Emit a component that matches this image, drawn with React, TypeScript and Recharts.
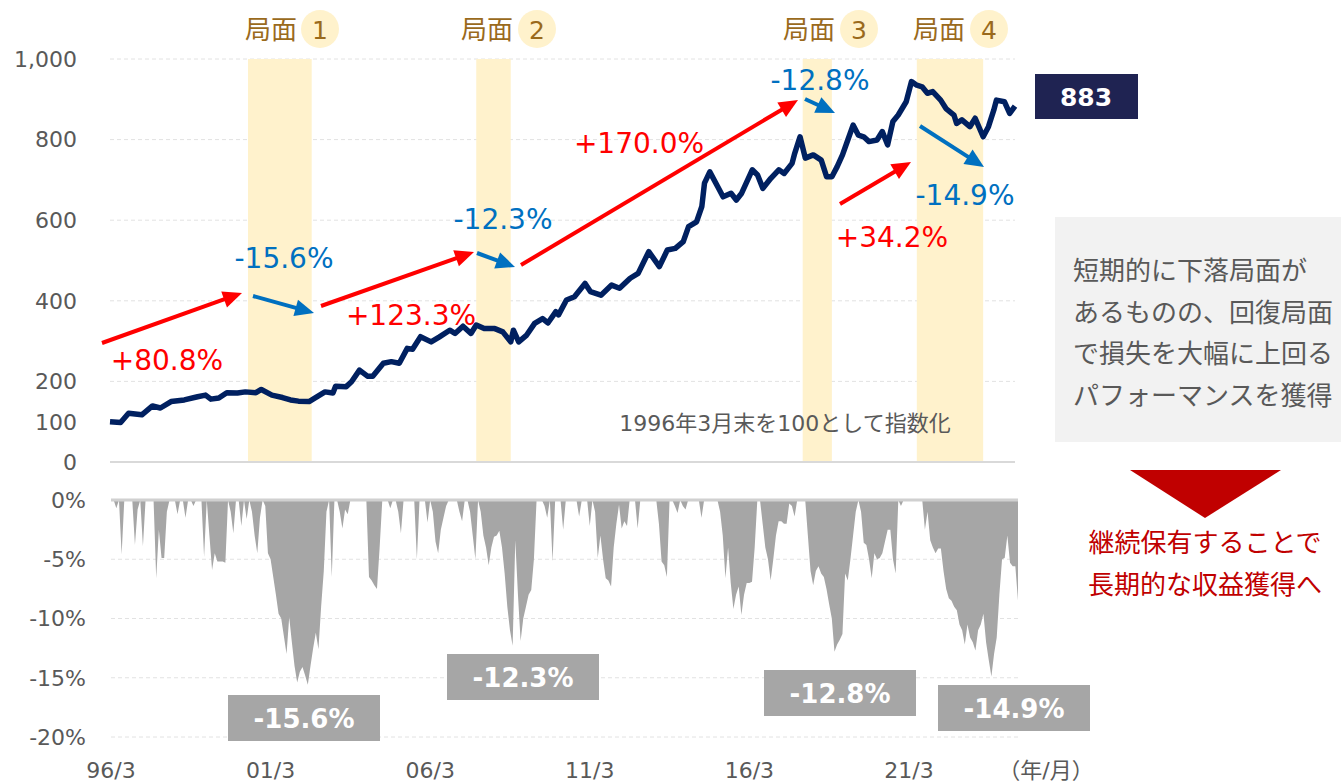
import {
  LineChart,
  Line,
  AreaChart,
  Area,
  XAxis,
  YAxis,
  CartesianGrid,
  ReferenceArea,
  ReferenceLine,
} from 'recharts';

// 指数（1996年3月末=100）
const indexDates = [
  '1996/03', '1996/07', '1996/10', '1997/03', '1997/07', '1997/10', '1998/02', '1998/07', '1998/12',
  '1999/03', '1999/05', '1999/08', '1999/11', '2000/03', '2000/06', '2000/10', '2000/12', '2001/04',
  '2001/08', '2001/11', '2002/02', '2002/06', '2002/08', '2002/12', '2003/03', '2003/04', '2003/08',
  '2003/10', '2004/01', '2004/04', '2004/06', '2004/10', '2005/01', '2005/04', '2005/07', '2005/09',
  '2005/12', '2006/04', '2006/07', '2006/11', '2007/01', '2007/04', '2007/07', '2007/09', '2007/12',
  '2008/04', '2008/07', '2008/10', '2008/11', '2009/01', '2009/04', '2009/07', '2009/10', '2009/12',
  '2010/03', '2010/04', '2010/07', '2010/10', '2011/02', '2011/04', '2011/08', '2011/12', '2012/03',
  '2012/07', '2012/10', '2013/02', '2013/06', '2013/09', '2013/12', '2014/03', '2014/05', '2014/08',
  '2014/10', '2014/11', '2015/01', '2015/04', '2015/06', '2015/09', '2015/11', '2016/01', '2016/05',
  '2016/07', '2016/09', '2016/12', '2017/03', '2017/05', '2017/08', '2017/09', '2017/11', '2018/01',
  '2018/04', '2018/07', '2018/09', '2018/11', '2019/01', '2019/03', '2019/05', '2019/07', '2019/09',
  '2019/11', '2020/01', '2020/04', '2020/06', '2020/08', '2020/10', '2020/12', '2021/03', '2021/05',
  '2021/07', '2021/09', '2021/11', '2022/01', '2022/04', '2022/06', '2022/09', '2022/10', '2022/12',
  '2023/03', '2023/05', '2023/08', '2023/10', '2023/12', '2024/01', '2024/04', '2024/06', '2024/08',
];
const indexValues = [
  100, 98, 121, 117, 139, 134, 150, 154, 162,
  166, 156, 159, 172, 171, 174, 172, 180, 166,
  160, 154, 151, 150, 158, 174, 171, 188, 187,
  199, 228, 213, 213, 245, 249, 245, 282, 280,
  311, 298, 310, 327, 319, 337, 319, 340, 331,
  331, 323, 298, 327, 298, 315, 344, 356, 345,
  373, 365, 402, 410, 443, 423, 414, 439, 431,
  456, 468, 522, 485, 526, 530, 547, 584, 596,
  634, 692, 720, 683, 658, 667, 650, 667, 725,
  712, 679, 704, 725, 716, 741, 766, 807, 754,
  762, 749, 708, 708, 733, 762, 799, 836, 811,
  807, 795, 799, 820, 787, 845, 861, 894, 944,
  935, 931, 915, 919, 898, 877, 861, 840, 849,
  832, 853, 807, 832, 873, 898, 894, 865, 883,
];

// 月次ドローダウン（%）1996/03 から
const drawdownStart = '1996/03';
const drawdown = [
  0, 0, -0.7, 0, -4.6, 0, 0, 0, 0, -3.8, -0.8, 0,
  -3.9, 0, 0, 0, 0, -6.6, -2.5, -4.9, -4.9, -1, 0, 0,
  0, -1.2, 0, 0, -1.5, 0, 0, -0.5, 0, 0, 0, -4.8,
  0, -3, -5.9, -4.5, -5.2, -5.2, -5.2, -5.3, 0, -1, -2.8, 0,
  0, -2.2, 0, -1.6, 0, -1, -3, -4.5, -1.5, 0, -0.5, -4.5,
  -5, -6.5, -8, -9.6, -10, -11.5, -13, -9.9, -12, -14, -15.4, -14.5,
  -14.1, -14.8, -15.6, -14, -12.5, -11.2, -12.6, -9, -6, -1, 0, -6.5,
  0, 0, -1, -2.4, -0.8, -1.2, 0, 0, 0, 0, 0, 0,
  0, -6.5, -6.8, -7.2, -7.5, -4, 0, 0, 0, -0.7, 0, 0,
  -1, -2.8, 0, 0, 0, 0, 0, -5, 0, 0, 0, -1.9,
  0, -1, -3.5, -4.5, -2.5, -1.5, -0.5, 0, 0, 0, 0, -1,
  -1.8, 0, 0, -1, -3, -5, 0, -1, -3, -4, -5.5, -4,
  -3.1, -3, -2.6, -4, -6.2, -9, -11, -12.3, -3.4, -8, -11.9, -10,
  -9, -8, -7.6, -5, 0, 0, 0, -0.5, -1.5, 0, -5.2, 0,
  0, 0, -2.5, 0, 0, 0, 0, 0, -1.4, 0, 0, 0,
  -2.2, 0, -1, -4.9, -3, -5, -6.6, -6.8, -7.3, -4, -2, -0.4,
  -2.4, -1.8, -2.2, 0, 0, 0, -2.4, 0, 0, 0, 0, 0,
  0, 0, -2, -5.2, -5.5, -6.5, 0, 0, -0.5, -1.1, 0, -0.5,
  -0.8, 0, 0, 0, 0, 0, -1.5, 0, 0, 0, 0, 0,
  0, -1, -3, -6.6, -4, -7, -9.2, -8, -7.3, -9.7, -8, -7,
  -7, -6.9, -4, 0, 0, -2, -4, -5, -6.8, -5, -3, -1.8,
  -1.8, -2, -2, -0.3, -0.5, -1.4, 0, 0, 0, 0, -3, -6,
  -7.2, -6, -5.6, -6.2, -6.5, -7.5, -8.8, -10, -12.8, -12.2, -11.8, -11.3,
  -6.2, -6.8, -5, -3, -1, 0, -1, -3.6, -3.8, -5, -6.6, -4.5,
  -5, -4.9, -4.5, -3.5, -2.5, -2.5, -5, -6.2, 0, -0.5, 0, 0,
  0, 0, 0, 0, 0, 0, -2.5, -1, -3.4, -4, -4.5, -4.1,
  -4.1, -6, -7.5, -8.3, -8.5, -9, -9.3, -10.5, -11, -12.2, -10.5, -11.6,
  -12, -12.7, -11, -10.5, -9.6, -12, -13.5, -14.9, -13, -11.6, -8, -5,
  -4.9, -3, -5.3, -5.6, -5.6, -8.5,
];

const xTickDates = ['1996/03', '2001/03', '2006/03', '2011/03', '2016/03', '2021/03'];
const xTickLabels = ['96/3', '01/3', '06/3', '11/3', '16/3', '21/3'];
const indexTicks = [0, 100, 200, 400, 600, 800, 1000];
const indexGrid = [200, 400, 600, 800, 1000];
const ddTicks = [-20, -15, -10, -5, 0];

// 局面
const phaseNames = ['1', '2', '3', '4'];
const phaseStart = ['2000/07', '2007/09', '2017/12', '2021/07'];
const phaseEnd = ['2002/07', '2008/10', '2018/11', '2023/08'];
const phaseDrops = ['-15.6%', '-12.3%', '-12.8%', '-14.9%'];
const phaseRises = ['+80.8%', '+123.3%', '+170.0%', '+34.2%'];
const lastValue = 883;

const monthIndex = (d: string) => {
  const [y, m] = d.split('/').map(Number);
  return (y - 1996) * 12 + (m - 3);
};

const lineData = indexDates.map((d, i) => ({ t: monthIndex(d), v: indexValues[i] }));
const ddOffset = monthIndex(drawdownStart);
const ddData = drawdown.map((v, i) => ({ t: ddOffset + i, d: v }));
const xTicks = xTickDates.map(monthIndex);
const xDomain: [number, number] = [0, 341];

const FONT = '"DejaVu Sans", "Noto Sans CJK JP", sans-serif';
const GREY = '#595959';
const RED = '#FF0000';
const BLUE = '#0070C0';
const BROWN = '#9A6A1C';

// 注記の配置（ピクセル）
const riseArrows = [
  [102, 343, 242, 293],
  [321, 306, 474, 252],
  [521, 265, 798, 100],
  [840, 204, 911, 162],
];
const riseText = [
  [167, 360],
  [411, 315],
  [639, 143],
  [892, 237],
];
const dropArrows = [
  [253, 296, 314, 313],
  [477, 253, 515, 267],
  [805, 99, 835, 113],
  [920, 126, 984, 167],
];
const dropText = [
  [284, 258],
  [503, 219],
  [820, 80],
  [965, 195],
];
const dropBoxes = [
  [228, 695],
  [447, 654],
  [764, 670],
  [938, 685],
];
const phaseLabelPos = [
  [271, 320],
  [487, 537],
  [809, 859],
  [939, 989],
];

function Arrow({ p, color }: { p: number[]; color: string }) {
  const [x1, y1, x2, y2] = p;
  const len = Math.hypot(x2 - x1, y2 - y1);
  const ux = (x2 - x1) / len;
  const uy = (y2 - y1) / len;
  const head = 19;
  const half = 8.5;
  const bx = x2 - ux * head;
  const by = y2 - uy * head;
  return (
    <g>
      <line x1={x1} y1={y1} x2={bx + ux * 2} y2={by + uy * 2} stroke={color} strokeWidth={4} />
      <polygon
        points={`${x2},${y2} ${bx - uy * half},${by + ux * half} ${bx + uy * half},${by - ux * half}`}
        fill={color}
      />
    </g>
  );
}

export default function App() {
  return (
    <div
      style={{
        position: 'absolute',
        left: 0,
        top: 0,
        width: 1341,
        height: 782,
        background: '#fff',
        fontFamily: FONT,
      }}
    >
      <div style={{ position: 'absolute', left: 0, top: 0 }}>
        <LineChart width={1341} height={480} data={lineData} margin={{ top: 59, right: 326, bottom: 18, left: 0 }}>
          <CartesianGrid vertical={false} horizontalValues={indexGrid} stroke="#E2E2E2" strokeDasharray="4 3" />
          <XAxis dataKey="t" type="number" domain={xDomain} hide />
          <YAxis
            type="number"
            domain={[0, 1000]}
            ticks={indexTicks}
            interval={0}
            width={110}
            axisLine={false}
            tickLine={false}
            tickSize={0}
            tickMargin={33}
            tickFormatter={(v) => Number(v).toLocaleString('en-US')}
            tick={{ fontSize: 22, fill: GREY }}
          />
          {phaseNames.map((n, i) => (
            <ReferenceArea
              key={n}
              x1={monthIndex(phaseStart[i])}
              x2={monthIndex(phaseEnd[i])}
              y1={0}
              y2={1000}
              fill="#FFF2CC"
              fillOpacity={1}
              stroke="none"
            />
          ))}
          <ReferenceLine y={0} stroke="#D9D9D9" strokeWidth={2} />
          <Line
            dataKey="v"
            type="linear"
            stroke="#002060"
            strokeWidth={5.5}
            strokeLinejoin="round"
            dot={false}
            isAnimationActive={false}
          />
        </LineChart>
      </div>

      <div style={{ position: 'absolute', left: 0, top: 480 }}>
        <AreaChart width={1341} height={302} data={ddData} margin={{ top: 20, right: 323, bottom: 0, left: 0 }}>
          <CartesianGrid vertical={false} horizontalValues={[-5, -10, -15, -20]} stroke="#E2E2E2" strokeDasharray="4 3" />
          <XAxis
            dataKey="t"
            type="number"
            domain={xDomain}
            ticks={xTicks}
            interval={0}
            height={45}
            axisLine={false}
            tickLine={false}
            tickSize={0}
            tickMargin={25}
            tickFormatter={(v) => xTickLabels[xTicks.indexOf(Number(v))] ?? ''}
            tick={{ fontSize: 22, fill: GREY }}
          />
          <YAxis
            type="number"
            domain={[-20, 0]}
            ticks={ddTicks}
            interval={0}
            width={111}
            axisLine={false}
            tickLine={false}
            tickSize={0}
            tickMargin={25}
            tickFormatter={(v) => `${v}%`}
            tick={{ fontSize: 22, fill: GREY }}
          />
          <Area
            dataKey="d"
            type="linear"
            baseValue={0}
            fill="#A6A6A6"
            fillOpacity={1}
            stroke="none"
            isAnimationActive={false}
          />
          <ReferenceLine y={0} stroke="#D0D0D0" strokeWidth={3} />
        </AreaChart>
      </div>

      <svg
        width={1341}
        height={782}
        style={{ position: 'absolute', left: 0, top: 0, pointerEvents: 'none', fontFamily: FONT }}
      >
        {phaseNames.map((n, i) => (
          <g key={n}>
            <text x={phaseLabelPos[i][0]} y={30} fontSize={26} fill={BROWN} textAnchor="middle" dominantBaseline="central">
              局面
            </text>
            <circle cx={phaseLabelPos[i][1]} cy={29} r={19} fill="#FFF2CC" />
            <text x={phaseLabelPos[i][1]} y={30} fontSize={25} fill={BROWN} textAnchor="middle" dominantBaseline="central">
              {n}
            </text>
          </g>
        ))}

        {riseArrows.map((p, i) => (
          <Arrow key={`r${i}`} p={p} color={RED} />
        ))}
        {dropArrows.map((p, i) => (
          <Arrow key={`b${i}`} p={p} color={BLUE} />
        ))}
        {phaseRises.map((s, i) => (
          <text key={s} x={riseText[i][0]} y={riseText[i][1]} fontSize={28} fill={RED} textAnchor="middle" dominantBaseline="central">
            {s}
          </text>
        ))}
        {phaseDrops.map((s, i) => (
          <text key={s} x={dropText[i][0]} y={dropText[i][1]} fontSize={28} fill={BLUE} textAnchor="middle" dominantBaseline="central">
            {s}
          </text>
        ))}

        <text x={785} y={423} fontSize={22} fill={GREY} textAnchor="middle" dominantBaseline="central">
          1996年3月末を100として指数化
        </text>

        {phaseDrops.map((s, i) => (
          <g key={`box${i}`}>
            <rect x={dropBoxes[i][0]} y={dropBoxes[i][1]} width={152} height={46} fill="#A6A6A6" />
            <text
              x={dropBoxes[i][0] + 76}
              y={dropBoxes[i][1] + 24}
              fontSize={26}
              fontWeight="bold"
              fill="#fff"
              textAnchor="middle"
              dominantBaseline="central"
            >
              {s}
            </text>
          </g>
        ))}

        <text x={1046} y={770} fontSize={22} fill={GREY} textAnchor="middle" dominantBaseline="central">
          （年/月）
        </text>

        <rect x={1035} y={74} width={103} height={45} fill="#1F2352" />
        <text x={1086} y={97} fontSize={25} fontWeight="bold" fill="#fff" textAnchor="middle" dominantBaseline="central">
          {lastValue}
        </text>

        <rect x={1055} y={217} width={286} height={225} fill="#F2F2F2" />
        {['短期的に下落局面が', 'あるものの、回復局面', 'で損失を大幅に上回る', 'パフォーマンスを獲得'].map((s, i) => (
          <text key={s} x={1073} y={271 + i * 41.7} fontSize={26} fill={GREY} dominantBaseline="central">
            {s}
          </text>
        ))}

        <polygon points="1130,470 1281,470 1205,518" fill="#C00000" />
        <text x={1205} y={543} fontSize={26} fill="#C00000" textAnchor="middle" dominantBaseline="central">
          継続保有することで
        </text>
        <text x={1205} y={585} fontSize={26} fill="#C00000" textAnchor="middle" dominantBaseline="central">
          長期的な収益獲得へ
        </text>
      </svg>
    </div>
  );
}
